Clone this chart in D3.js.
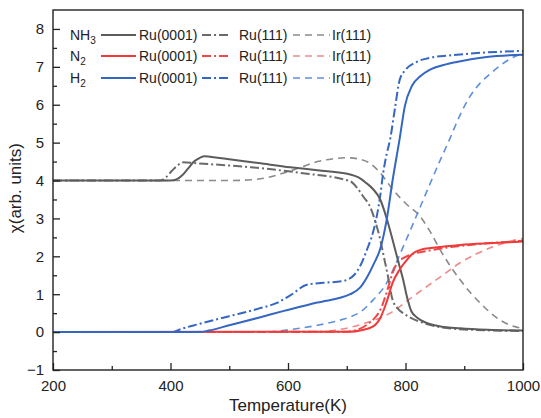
<!DOCTYPE html>
<html>
<head>
<meta charset="utf-8">
<script src="https://cdn.jsdelivr.net/npm/d3@7"></script>
<style>
  body { margin: 0; background: #fff; overflow: hidden; }
  svg text { font-family: "Liberation Sans", Arial, sans-serif; fill: #222; }
</style>
</head>
<body>
<div id="chart"></div>
<script>
// --- data: [temperature K, chi] ---
const nh3Ru0001 = [[200,4],[400,4],[410,4.03],[420,4.14],[430,4.32],[440,4.5],[450,4.6],[458,4.64],[480,4.6],[500,4.56],[550,4.46],[604,4.35],[650,4.27],[706,4.16],[720,4.08],[732,3.95],[745,3.77],[757,3.5],[768,3.0],[778,2.44],[787,1.9],[796,1.38],[803,0.9],[810,0.55],[820,0.38],[836,0.24],[860,0.15],[893,0.1],[940,0.06],[1000,0.04]];
const nh3Ru111 = [[200,4],[382,4],[392,4.08],[402,4.25],[412,4.4],[422,4.48],[440,4.46],[537,4.35],[622,4.2],[706,3.98],[718,3.8],[728,3.58],[740,3.3],[749,2.9],[757,2.44],[763,2.0],[769,1.56],[778,0.85],[787,0.62],[796,0.5],[810,0.37],[825,0.27],[850,0.16],[900,0.07],[1000,0.03]];
const nh3Ir111 = [[200,4],[500,4],[537,4.02],[565,4.08],[593,4.2],[620,4.34],[650,4.5],[675,4.57],[700,4.6],[723,4.56],[740,4.45],[756,4.22],[778,3.77],[800,3.4],[825,3.05],[842,2.65],[859,2.17],[876,1.75],[893,1.38],[910,1.05],[927,0.77],[944,0.52],[961,0.32],[980,0.17],[1000,0.1]];

const n2Ru0001 = [[200,0],[705,0.01],[725,0.05],[745,0.15],[758,0.4],[768,0.8],[778,1.3],[790,1.65],[802,1.9],[812,2.07],[825,2.17],[850,2.23],[893,2.3],[950,2.35],[1000,2.39]];
const n2Ru111 = [[200,0],[695,0.01],[715,0.05],[735,0.2],[748,0.38],[757,0.58],[768,1.05],[778,1.56],[787,1.85],[796,1.95],[810,2.05],[840,2.15],[880,2.25],[930,2.33],[1000,2.41]];
const n2Ir111 = [[200,0],[640,0],[680,0.05],[710,0.14],[740,0.28],[774,0.5],[805,0.85],[836,1.2],[865,1.52],[893,1.83],[920,2.06],[949,2.25],[970,2.36],[990,2.44],[1000,2.47]];

const h2Ru0001 = [[200,0],[450,0],[465,0.04],[500,0.18],[550,0.38],[593,0.56],[650,0.78],[706,1.0],[723,1.18],[735,1.46],[746,1.8],[757,2.2],[768,2.97],[778,4.0],[790,5.1],[799,5.97],[811,6.5],[825,6.75],[841,6.92],[865,7.05],[887,7.13],[938,7.26],[1000,7.32]];
const h2Ru111 = [[200,0],[405,0],[411,0.04],[450,0.22],[500,0.42],[550,0.62],[581,0.77],[605,0.98],[632,1.25],[660,1.3],[694,1.35],[712,1.5],[723,1.75],[735,2.2],[745,2.65],[751,3.05],[757,3.6],[762,4.2],[768,4.7],[774,5.1],[782,5.9],[790,6.65],[800,6.92],[819,7.13],[845,7.25],[874,7.3],[938,7.38],[1000,7.42]];
const h2Ir111 = [[200,0],[560,0],[600,0.06],[650,0.18],[685,0.3],[706,0.4],[723,0.53],[745,0.85],[768,1.3],[782,1.75],[796,2.25],[810,2.75],[825,3.3],[840,3.85],[858,4.5],[876,5.12],[892,5.7],[909,6.2],[926,6.55],[943,6.8],[960,7.02],[977,7.2],[1000,7.36]];

const xTicks = [200, 400, 600, 800, 1000];
const yTicks = [-1, 0, 1, 2, 3, 4, 5, 6, 7, 8];
const species = [["NH", "3"], ["N", "2"], ["H", "2"]];
const surfaces = ["Ru(0001)", "Ru(111)", "Ir(111)"];

const seriesData = [
  [nh3Ru0001, nh3Ru111, nh3Ir111],
  [n2Ru0001, n2Ru111, n2Ir111],
  [h2Ru0001, h2Ru111, h2Ir111]
];

// --- styles ---
const colors = [
  ["#5c5c5c", "#6a6a6a", "#8a8a8a"],
  ["#f03a3a", "#f04848", "#f08a8a"],
  ["#3466c2", "#3466c2", "#5f90dc"]
];
const dashes = [null, "9,3,2,3", "7,5"];
const widths = [2, 2, 1.6];

const width = 541, height = 418;
const margin = { top: 10, right: 18, bottom: 48, left: 53 };
const innerWidth = width - margin.left - margin.right;
const innerHeight = height - margin.top - margin.bottom;

const svg = d3.select("#chart").append("svg")
  .attr("width", width)
  .attr("height", height)
  .style("display", "block");

const g = svg.append("g")
  .attr("transform", `translate(${margin.left},${margin.top})`);

const xScale = d3.scaleLinear().domain([200, 1000]).range([0, innerWidth]);
const yScale = d3.scaleLinear().domain([-1, 8.5]).range([innerHeight, 0]);

svg.append("defs").append("clipPath").attr("id", "clip")
  .append("rect").attr("width", innerWidth).attr("height", innerHeight);

const line = d3.line()
  .x(d => xScale(d[0]))
  .y(d => yScale(d[1]))
  .curve(d3.curveMonotoneX);

const plot = g.append("g").attr("clip-path", "url(#clip)");

// Ir dashed first, then dash-dot, then solid on top
[2, 1, 0].forEach(j => {
  [0, 1, 2].forEach(i => {
    plot.append("path")
      .datum(seriesData[i][j])
      .attr("fill", "none")
      .attr("stroke", colors[i][j])
      .attr("stroke-width", widths[j])
      .attr("stroke-dasharray", dashes[j])
      .attr("d", line);
  });
});

// --- axes, ticks pointing inward ---
const xMinor = d3.range(300, 1000, 200);
const yMinor = d3.range(-0.5, 8.5, 1);

const xAxis = g.append("g")
  .attr("transform", `translate(0,${innerHeight})`)
  .call(d3.axisBottom(xScale).tickValues(xTicks).tickSize(-7).tickPadding(10).tickFormat(d3.format("d")));
xAxis.selectAll(".tick text").attr("font-size", "15px");

g.append("g")
  .attr("transform", `translate(0,${innerHeight})`)
  .call(d3.axisBottom(xScale).tickValues(xMinor).tickSize(-4).tickFormat(""))
  .call(a => a.selectAll("text").remove());

const yAxis = g.append("g")
  .call(d3.axisLeft(yScale).tickValues(yTicks).tickSize(-7).tickPadding(9));
yAxis.selectAll(".tick text").attr("font-size", "15px");

g.append("g")
  .call(d3.axisLeft(yScale).tickValues(yMinor).tickSize(-4).tickFormat(""))
  .call(a => a.selectAll("text").remove());

g.selectAll(".tick line").attr("stroke", "#222").attr("stroke-width", 1.3);
g.selectAll(".domain").remove();
g.selectAll(".tick text").attr("fill", "#222").attr("font-family", "Liberation Sans, Arial, sans-serif");

// frame
g.append("rect")
  .attr("width", innerWidth)
  .attr("height", innerHeight)
  .attr("fill", "none")
  .attr("stroke", "#222")
  .attr("stroke-width", 1.4);

// axis titles
g.append("text")
  .attr("x", xScale(600))
  .attr("y", innerHeight + 41)
  .attr("text-anchor", "middle")
  .attr("font-size", "17px")
  .text("Temperature(K)");

g.append("text")
  .attr("transform", "rotate(-90)")
  .attr("x", -yScale(3.8))
  .attr("y", -32)
  .attr("text-anchor", "middle")
  .attr("font-size", "17px")
  .text("χ(arb. units)");

// --- legend ---
const legend = g.append("g");
const rowY = [25, 46, 68];
const lineSegs = [[48, 83], [149, 177], [240, 277]];
const textX = [86, 186, 279];

species.forEach((s, i) => {
  const t = legend.append("text")
    .attr("x", 17)
    .attr("y", rowY[i] + 5)
    .attr("font-size", "14px");
  t.append("tspan").text(s[0]);
  t.append("tspan").attr("font-size", "10px").attr("dy", "4").text(s[1]);

  surfaces.forEach((sf, j) => {
    legend.append("line")
      .attr("x1", lineSegs[j][0]).attr("x2", lineSegs[j][1])
      .attr("y1", rowY[i]).attr("y2", rowY[i])
      .attr("stroke", colors[i][j])
      .attr("stroke-width", widths[j])
      .attr("stroke-dasharray", dashes[j]);
    legend.append("text")
      .attr("x", textX[j])
      .attr("y", rowY[i] + 5)
      .attr("font-size", "14px")
      .text(sf);
  });
});
</script>
</body>
</html>
